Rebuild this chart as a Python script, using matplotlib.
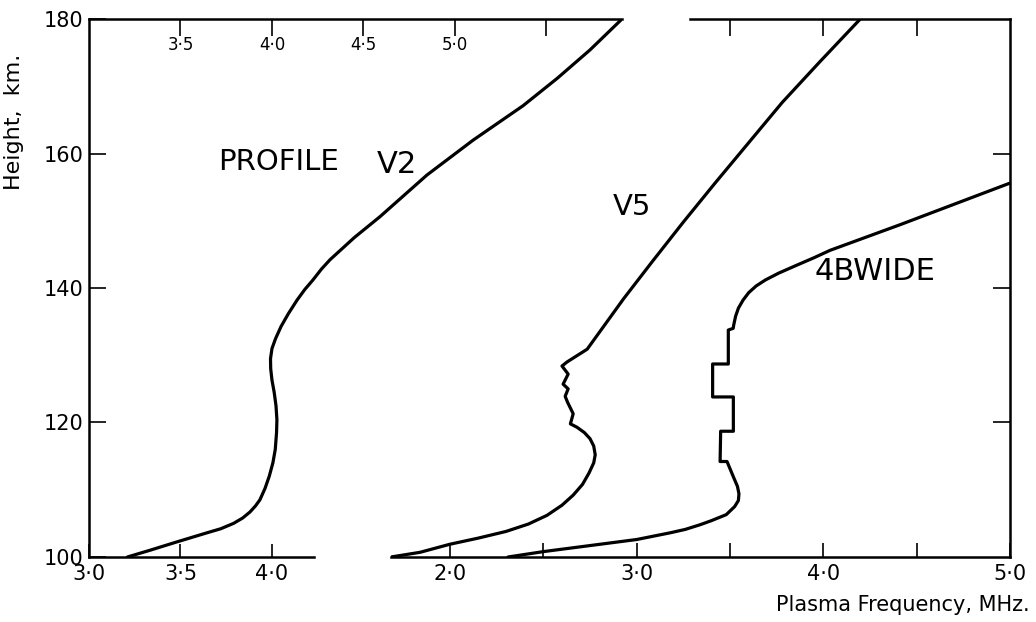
import matplotlib
matplotlib.use("Agg")
import matplotlib.pyplot as plt

# profile V2 (left panel scale), frequency MHz / height km
v2_freq = [3.21, 3.333, 3.475, 3.645, 3.72, 3.79, 3.84, 3.88, 3.91, 3.934,
           3.962, 3.985, 4.005, 4.018, 4.025, 4.027, 4.022, 4.012, 4.0, 3.993,
           3.992, 4.0, 4.02, 4.05, 4.09, 4.137, 4.18, 4.224, 4.27, 4.317,
           4.45, 4.59, 4.847, 5.1, 5.372, 5.56, 5.738, 5.913]
v2_height = [100.0, 101.0, 102.2, 103.6, 104.2, 105.0, 105.8, 106.7, 107.6, 108.5,
             110.2, 112.0, 114.0, 116.0, 118.5, 120.4, 122.5, 124.5, 126.3, 128.0,
             129.5, 131.0, 132.5, 134.3, 136.2, 138.2, 139.8, 141.2, 142.8, 144.2,
             147.5, 150.6, 156.8, 162.0, 167.1, 171.2, 175.4, 180.0]

# profile V5 (right panel scale)
v5_freq = [1.684, 1.84, 2.0, 2.15, 2.3, 2.42, 2.52, 2.6, 2.66, 2.71,
           2.745, 2.77, 2.778, 2.77, 2.75, 2.72, 2.68, 2.645, 2.66, 2.63,
           2.617, 2.633, 2.606, 2.633, 2.60, 2.627, 2.735, 2.93, 3.08, 3.25,
           3.42, 3.6, 3.78, 3.98, 4.198]
v5_height = [100.0, 100.7, 101.9, 102.8, 103.8, 104.9, 106.2, 107.7, 109.2, 110.8,
             112.5, 114.0, 115.2, 116.5, 117.6, 118.5, 119.3, 119.8, 121.3, 123.0,
             123.9, 125.0, 125.7, 127.2, 128.4, 129.0, 130.9, 138.4, 143.8, 149.8,
             155.6, 161.6, 167.6, 173.6, 180.0]

# profile 4BWIDE (right panel scale)
wide_freq = [2.311, 2.50, 2.75, 3.00, 3.18, 3.26, 3.34, 3.40, 3.48, 3.525,
             3.545, 3.548, 3.54, 3.52, 3.484, 3.447, 3.45, 3.518, 3.518, 3.407,
             3.407, 3.491, 3.491, 3.517, 3.52, 3.53, 3.545, 3.57, 3.60, 3.64,
             3.69, 3.76, 3.85, 3.95, 4.036, 4.41, 5.0]
wide_height = [100.0, 100.8, 101.7, 102.6, 103.6, 104.1, 104.8, 105.4, 106.3, 107.5,
               108.4, 109.4, 110.5, 111.8, 114.2, 114.2, 118.7, 118.7, 123.8, 123.8,
               128.7, 128.7, 133.75, 134.0, 134.5, 135.8, 137.0, 138.2, 139.3, 140.3,
               141.2, 142.2, 143.3, 144.5, 145.6, 149.4, 155.6]

height_ticks = [100, 120, 140, 160, 180]
left_bottom_ticks = [3.0, 3.5, 4.0]
left_top_ticks = [3.5, 4.0, 4.5, 5.0, 5.5]
left_top_labels = ["3·5", "4·0", "4·5", "5·0", ""]
right_bottom_ticks = [2.0, 2.5, 3.0, 3.5, 4.0, 4.5, 5.0]
right_bottom_labels = ["2·0", "", "3·0", "", "4·0", "", "5·0"]
right_top_ticks = [3.5, 4.0, 4.5]

W, H = 1036, 622
plt.rcParams['font.family'] = ['DejaVu Sans']
fig = plt.figure(figsize=(W / 100, H / 100), dpi=100)

def box(x0, x1, y0, y1):
    return [x0 / W, 1 - y1 / H, (x1 - x0) / W, (y1 - y0) / H]

lw_curve = 2.3
lw_spine = 1.8

# ---- left panel ----
ax1 = fig.add_axes(box(89, 622, 19, 557))
ax1.set_facecolor('none')
ax1.set_xlim(3.0, 5.913)
ax1.set_ylim(100, 180)
ax1.plot(v2_freq, v2_height, color='black', lw=lw_curve, solid_capstyle='round')
for s in ['left', 'top', 'bottom']:
    ax1.spines[s].set_linewidth(lw_spine)
ax1.spines['right'].set_visible(False)
ax1.spines['bottom'].set_bounds(3.0, 4.23)
ax1.set_xticks(left_bottom_ticks)
ax1.set_xticklabels([f"{t:.1f}".replace('.', '·') for t in left_bottom_ticks], fontsize=15)
ax1.tick_params(axis='x', direction='in', length=9.5, width=1.2, pad=5)
ax1.set_yticks(height_ticks)
ax1.set_yticklabels([str(t) for t in height_ticks], fontsize=15)
ax1.tick_params(axis='y', direction='in', length=12, width=1.2, pad=4)
sec = ax1.secondary_xaxis('top')
sec.spines['top'].set_visible(False)
sec.set_xticks(left_top_ticks)
sec.set_xticklabels(left_top_labels, fontsize=12)
sec.tick_params(direction='in', length=12, width=1.2, pad=-25)

ax1.text(3.705, 158.7, "PROFILE", fontsize=21, va='center', ha='left')
ax1.text(3.0 + (377 - 89) / 183, 158.4, "V2", fontsize=22, va='center', ha='left')

# ---- right panel ----
ax2 = fig.add_axes(box(391, 1010, 19, 557))
ax2.set_facecolor('none')
ax2.set_xlim(1.684, 5.0)
ax2.set_ylim(100, 180)
ax2.plot(v5_freq, v5_height, color='black', lw=lw_curve, solid_capstyle='round')
ax2.plot(wide_freq, wide_height, color='black', lw=lw_curve, solid_capstyle='round')
for s in ['right', 'top', 'bottom']:
    ax2.spines[s].set_linewidth(lw_spine)
ax2.spines['left'].set_visible(False)
ax2.spines['top'].set_bounds(3.286, 5.0)
ax2.set_xticks(right_bottom_ticks)
ax2.set_xticklabels(right_bottom_labels, fontsize=15)
ax2.tick_params(axis='x', direction='in', length=10, width=1.2, pad=5)
ax2.yaxis.tick_right()
ax2.set_yticks(height_ticks[1:-1])
ax2.tick_params(axis='y', direction='in', length=12, width=1.2, labelright=False)
sec2 = ax2.secondary_xaxis('top')
sec2.spines['top'].set_visible(False)
sec2.set_xticks(right_top_ticks)
sec2.set_xticklabels([])
sec2.tick_params(direction='in', length=12, width=1.2)

ax2.text(2.873, 152.0, "V5", fontsize=21, va='center', ha='left')
ax2.text(3.955, 142.4, "4BWIDE", fontsize=22, va='center', ha='left')

fig.text(14 / W, 1 - 122 / H, "Height,  km.", rotation=90, fontsize=16,
         ha='center', va='center')
fig.text(1030 / W, 1 - 605 / H, "Plasma Frequency, MHz.", fontsize=15,
         ha='right', va='center')

fig.savefig("out.png", dpi=100)
